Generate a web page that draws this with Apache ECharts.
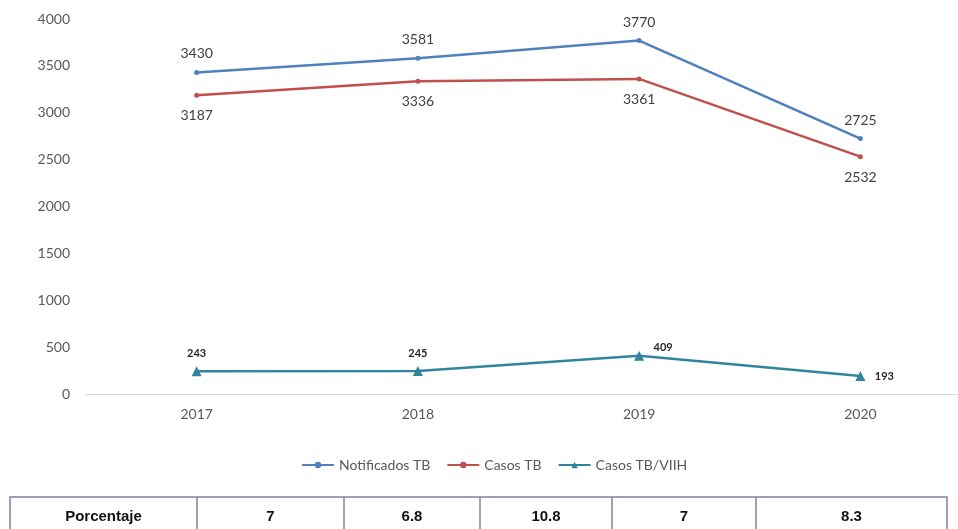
<!DOCTYPE html>
<html>
<head>
<meta charset="utf-8">
<script src="https://cdn.jsdelivr.net/npm/echarts@6/dist/echarts.min.js"></script>
<style>html,body{margin:0;padding:0;background:#fff;overflow:hidden;width:958px;height:529px;}#c{width:971px;height:529px;}</style>
</head>
<body>
<div id="c"></div>
<script>
var years = ['2017', '2018', '2019', '2020'];
var notificados = [3430, 3581, 3770, 2725];
var casosTB = [3187, 3336, 3361, 2532];
var casosVIH = [243, 245, 409, 193];
var tableHeader = 'Porcentaje';
var porcentaje = ['7', '6.8', '10.8', '7', '8.3'];
var yTicks = { min: 0, max: 4000, interval: 500 };

var chart = echarts.init(document.getElementById('c'));
var font = 'Lato, "Open Sans", sans-serif';

// table geometry
var colEdges = [10, 197, 344, 480, 612, 756, 947];
var tTop = 497, tBottom = 560;
var tableGraphics = [];
tableGraphics.push({
  type: 'rect', shape: { x: colEdges[0], y: tTop, width: colEdges[6] - colEdges[0], height: tBottom - tTop },
  style: { fill: 'none', stroke: '#8080a8', lineWidth: 1.5 }
});
for (var i = 1; i < colEdges.length - 1; i++) {
  tableGraphics.push({
    type: 'line', shape: { x1: colEdges[i], y1: tTop, x2: colEdges[i], y2: tBottom },
    style: { stroke: '#8080a8', lineWidth: 1.5 }
  });
}
var cells = [tableHeader].concat(porcentaje);
for (var j = 0; j < cells.length; j++) {
  tableGraphics.push({
    type: 'text',
    x: (colEdges[j] + colEdges[j + 1]) / 2, y: 517,
    style: { text: cells[j], fill: '#111', font: 'bold 15px "Liberation Sans", Arial, sans-serif', textAlign: 'center', textVerticalAlign: 'middle' }
  });
}

chart.setOption({
  animation: false,
  grid: { left: 86, right: 0, top: 19, bottom: 135, containLabel: false },
  legend: {
    bottom: 52, left: 296,
    itemWidth: 32, itemHeight: 8, itemGap: 16,
    textStyle: { color: '#595959', fontSize: 14, fontFamily: font },
    data: ['Notificados TB', 'Casos TB', 'Casos TB/VIIH']
  },
  xAxis: {
    type: 'category', data: years, boundaryGap: true,
    axisLine: { lineStyle: { color: '#d9d9d9', width: 1 } },
    axisTick: { show: false },
    axisLabel: { color: '#595959', fontSize: 14, fontFamily: font, margin: 13 }
  },
  yAxis: {
    type: 'value', min: yTicks.min, max: yTicks.max, interval: yTicks.interval,
    splitLine: { show: false },
    axisLine: { show: false }, axisTick: { show: false },
    axisLabel: { color: '#595959', fontSize: 14, fontFamily: font, margin: 16, formatter: function (v) { return String(v); } }
  },
  series: [
    {
      name: 'Notificados TB', type: 'line', data: notificados,
      symbol: 'circle', symbolSize: 5,
      lineStyle: { color: '#4f81bd', width: 2.5 }, itemStyle: { color: '#4f81bd' },
      label: { show: true, position: 'top', distance: 9, color: '#404040', fontSize: 14, fontFamily: font }
    },
    {
      name: 'Casos TB', type: 'line', data: casosTB,
      symbol: 'circle', symbolSize: 5,
      lineStyle: { color: '#c0504d', width: 2.5 }, itemStyle: { color: '#c0504d' },
      label: { show: true, position: 'bottom', distance: 11, color: '#404040', fontSize: 14, fontFamily: font }
    },
    {
      name: 'Casos TB/VIIH', type: 'line', data: casosVIH.map(function (v, k) {
        var pos = [[0, -18], [0, -18], [24, -8], [24, 1]][k];
        return { value: v, label: { offset: pos } };
      }),
      symbol: 'triangle', symbolSize: 10,
      lineStyle: { color: '#31859c', width: 2.5 }, itemStyle: { color: '#31859c' },
      label: { show: true, position: 'inside', color: '#262626', fontSize: 11, fontWeight: 'bold', fontFamily: font }
    }
  ],
  graphic: tableGraphics
});
</script>
</body>
</html>
